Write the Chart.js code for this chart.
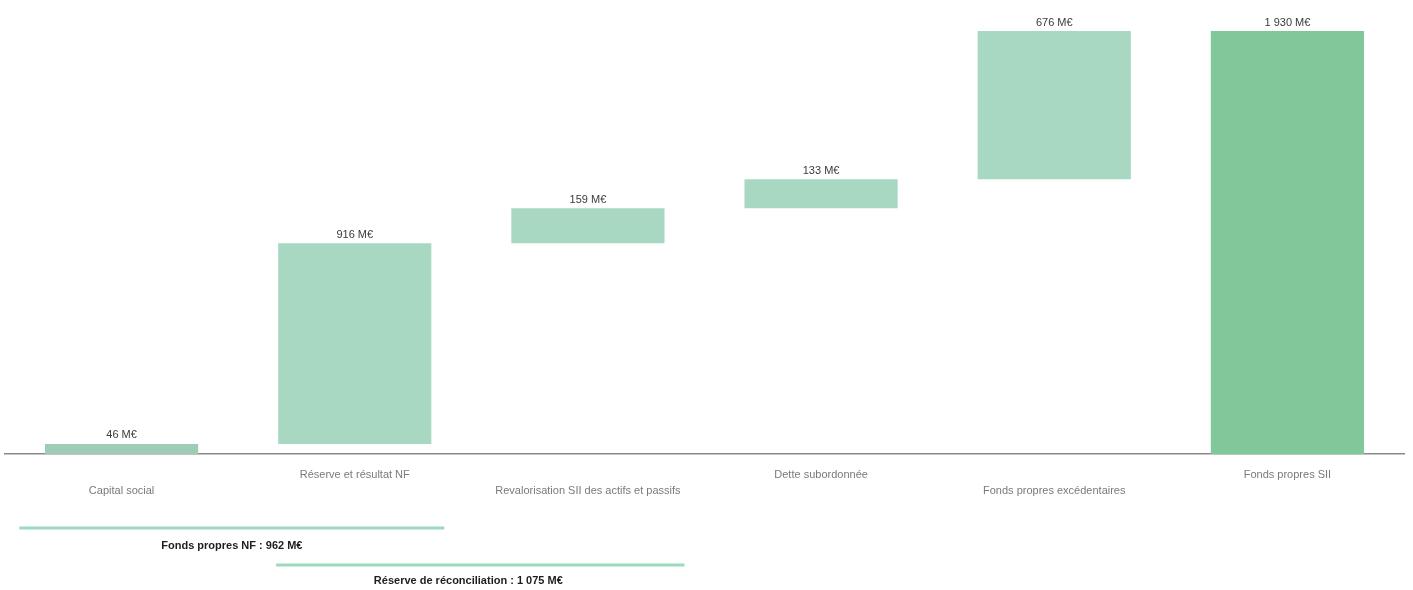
<!DOCTYPE html>
<html>
<head>
<meta charset="utf-8">
<script src="https://cdn.jsdelivr.net/npm/chart.js@4.4.1/dist/chart.umd.min.js"></script>
<style>
  html, body { margin: 0; padding: 0; background: #ffffff; }
  #wrap { width: 1413px; height: 590px; position: relative; }
</style>
</head>
<body>
<div id="wrap"><canvas id="c"></canvas></div>
<script>
// ---- Data ----
const categories = [
  'Capital social',
  'Réserve et résultat NF',
  'Revalorisation SII des actifs et passifs',
  'Dette subordonnée',
  'Fonds propres excédentaires',
  'Fonds propres SII'
];
const values = [46, 916, 159, 133, 676, 1930];
const isTotal = [false, false, false, false, false, true];
const unit = ' M€';
const bracketNames = ['Fonds propres NF', 'Réserve de réconciliation'];
const bracketFrom = [0, 1];
const bracketTo = [1, 2];

// ---- Helpers ----
function fmt(v) {
  return String(v).replace(/\B(?=(\d{3})+(?!\d))/g, ' ');
}

// Build floating ranges for the waterfall
const ranges = [];
let running = 0;
values.forEach((v, i) => {
  if (isTotal[i]) {
    ranges.push([0, v]);
  } else {
    ranges.push([running, running + v]);
    running += v;
  }
});

const colors = values.map((v, i) => isTotal[i] ? '#80c899' : (i === 0 ? '#9ecdb6' : '#a8d8c2'));

// Plugin: value labels above bars
const valueLabels = {
  id: 'valueLabels',
  afterDatasetsDraw(chart) {
    const ctx = chart.ctx;
    const meta = chart.getDatasetMeta(0);
    ctx.save();
    ctx.font = '11px "Liberation Sans", Arial, sans-serif';
    ctx.fillStyle = '#3a3a3a';
    ctx.textAlign = 'center';
    ctx.textBaseline = 'bottom';
    meta.data.forEach((bar, i) => {
      const top = Math.min(bar.y, bar.base);
      ctx.fillText(fmt(values[i]) + unit, bar.x, top - 3);
    });
    ctx.restore();
  }
};

// Plugin: brackets below the axis
const brackets = {
  id: 'brackets',
  afterDraw(chart, args, opts) {
    const ctx = chart.ctx;
    const x = chart.scales.x;
    const step = x.getPixelForValue(1) - x.getPixelForValue(0);
    const bottom = chart.chartArea.bottom;
    ctx.save();
    bracketNames.forEach((name, k) => {
      const ext = opts.extents[k];
      const x1 = x.getPixelForValue(bracketFrom[k]) + ext[0] * step;
      const x2 = x.getPixelForValue(bracketTo[k]) + ext[1] * step;
      const ly = bottom + opts.lineOffsets[k];
      ctx.strokeStyle = opts.lineColor;
      ctx.lineWidth = 3;
      ctx.beginPath();
      ctx.moveTo(x1, ly);
      ctx.lineTo(x2, ly);
      ctx.stroke();
      let sum = 0;
      for (let i = bracketFrom[k]; i <= bracketTo[k]; i++) sum += values[i];
      ctx.font = 'bold 11px "Liberation Sans", Arial, sans-serif';
      ctx.fillStyle = '#1e1e1e';
      ctx.textAlign = 'center';
      ctx.textBaseline = 'middle';
      ctx.fillText(name + ' : ' + fmt(sum) + unit, (x1 + x2) / 2 + opts.textShift[k], bottom + opts.textOffsets[k]);
    });
    ctx.restore();
  }
};

new Chart(document.getElementById('c'), {
  type: 'bar',
  data: {
    labels: categories,
    datasets: [{
      data: ranges,
      backgroundColor: colors,
      borderWidth: 0,
      categoryPercentage: 1.0,
      barPercentage: 0.657
    }]
  },
  options: {
    responsive: true,
    maintainAspectRatio: false,
    animation: false,
    layout: { padding: { top: 31, left: 5, right: 9, bottom: 0 } },
    plugins: {
      legend: { display: false },
      tooltip: { enabled: false },
      brackets: {
        extents: [[-0.438, 0.384], [-0.337, 0.414]],
        lineOffsets: [74, 111],
        textOffsets: [92, 127],
        textShift: [0, -12],
        lineColor: '#9dd9bd'
      }
    },
    scales: {
      x: {
        grid: { display: false, drawTicks: false },
        border: { display: true, color: '#8a8a8a', width: 1.5 },
        ticks: {
          padding: 13,
          color: '#7a7a7a',
          font: { family: '"Liberation Sans", Arial, sans-serif', size: 11, lineHeight: 1.45 },
          maxRotation: 0,
          autoSkip: false,
          callback: function(val, idx) {
            const l = categories[idx];
            return idx % 2 === 0 ? ['', l] : [l];
          }
        },
        afterFit: function(s) { s.height = 136; }
      },
      y: {
        display: false,
        min: 0,
        max: 1930
      }
    }
  },
  plugins: [valueLabels, brackets]
});
</script>
</body>
</html>
